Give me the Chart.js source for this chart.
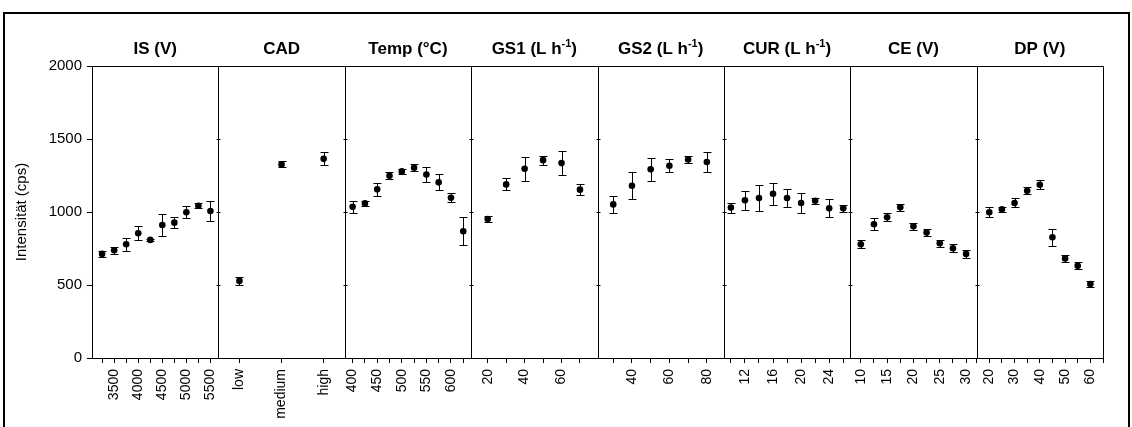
<!DOCTYPE html>
<html>
<head>
<meta charset="utf-8">
<script src="https://cdn.jsdelivr.net/npm/chart.js@4.4.1/dist/chart.umd.min.js"></script>
<style>
  html, body { margin: 0; padding: 0; background: #fff; }
  #wrap { position: relative; width: 1132px; height: 427px; overflow: hidden; }
  #frame { position: absolute; left: 3px; top: 12px; width: 1127px; height: 440px; border: 2.5px solid #000; box-sizing: border-box; }
  canvas { position: absolute; left: 0; top: 0; }
</style>
</head>
<body>
<div id="wrap">
  <div id="frame"></div>
  <canvas id="grafico" width="1132" height="427"></canvas>
</div>
<script>
// IS (V)
const isX = [3250, 3500, 3750, 4000, 4250, 4500, 4750, 5000, 5250, 5500];
const isMean = [713, 738, 779, 854, 809, 911, 927, 998, 1043, 1007];
const isErr = [22, 23, 45, 48, 8, 78, 39, 41, 17, 70];
const isTicks = [3250, 3500, 3750, 4000, 4250, 4500, 4750, 5000, 5250, 5500];
const isLabels = [3500, 4000, 4500, 5000, 5500];

// CAD
const cadX = ['low', 'medium', 'high'];
const cadMean = [528, 1326, 1364];
const cadErr = [25, 20, 45];

// Temp (°C)
const tempX = [400, 425, 450, 475, 500, 525, 550, 575, 600, 625];
const tempMean = [1036, 1059, 1155, 1248, 1278, 1303, 1257, 1203, 1098, 868];
const tempErr = [41, 15, 45, 24, 18, 25, 49, 55, 32, 95];
const tempTicks = [400, 425, 450, 475, 500, 525, 550, 575, 600, 625];
const tempLabels = [400, 450, 500, 550, 600];

// GS1 (L h-1)
const gs1X = [20, 30, 40, 50, 60, 70];
const gs1Mean = [952, 1189, 1296, 1355, 1335, 1153];
const gs1Err = [20, 41, 83, 30, 82, 39];
const gs1Ticks = [20, 30, 40, 50, 60, 70];
const gs1Labels = [20, 40, 60];

// GS2 (L h-1)
const gs2X = [30, 40, 50, 60, 70, 80];
const gs2Mean = [1052, 1180, 1292, 1317, 1360, 1342];
const gs2Err = [58, 91, 79, 46, 25, 71];
const gs2Ticks = [30, 40, 50, 60, 70, 80];
const gs2Labels = [40, 60, 80];

// CUR (L h-1)
const curX = [10, 12, 14, 16, 18, 20, 22, 24, 26];
const curMean = [1030, 1080, 1096, 1125, 1096, 1062, 1077, 1025, 1025];
const curErr = [35, 65, 90, 77, 64, 69, 22, 62, 26];
const curTicks = [10, 12, 14, 16, 18, 20, 22, 24, 26];
const curLabels = [12, 16, 20, 24];

// CE (V)
const ceX = [10, 12.5, 15, 17.5, 20, 22.5, 25, 27.5, 30];
const ceMean = [779, 916, 964, 1032, 902, 859, 786, 752, 713];
const ceErr = [26, 40, 27, 24, 22, 23, 25, 26, 27];
const ceTicks = [10, 12.5, 15, 17.5, 20, 22.5, 25, 27.5, 30];
const ceLabels = [10, 15, 20, 25, 30];

// DP (V)
const dpX = [20, 25, 30, 35, 40, 45, 50, 55, 60];
const dpMean = [998, 1018, 1062, 1146, 1187, 827, 681, 631, 506];
const dpErr = [35, 17, 31, 26, 30, 57, 22, 24, 20];
const dpTicks = [15, 20, 25, 30, 35, 40, 45, 50, 55, 60, 65];
const dpLabels = [20, 30, 40, 50, 60];

const yTicks = [0, 500, 1000, 1500, 2000];

const painéis = [
  { titulo: 'IS (V)', x: isX, media: isMean, erro: isErr, ticks: isTicks, rotulos: isLabels, min: 3040, max: 5665 },
  { titulo: 'CAD', x: cadX, media: cadMean, erro: cadErr, categorias: true },
  { titulo: 'Temp (°C)', x: tempX, media: tempMean, erro: tempErr, ticks: tempTicks, rotulos: tempLabels, min: 384, max: 641 },
  { titulo: 'GS1 (L h^-1^)', x: gs1X, media: gs1Mean, erro: gs1Err, ticks: gs1Ticks, rotulos: gs1Labels, min: 11, max: 79.5 },
  { titulo: 'GS2 (L h^-1^)', x: gs2X, media: gs2Mean, erro: gs2Err, ticks: gs2Ticks, rotulos: gs2Labels, min: 21.6, max: 89.1 },
  { titulo: 'CUR (L h^-1^)', x: curX, media: curMean, erro: curErr, ticks: curTicks, rotulos: curLabels, min: 9, max: 27 },
  { titulo: 'CE (V)', x: ceX, media: ceMean, erro: ceErr, ticks: ceTicks, rotulos: ceLabels, min: 8, max: 32 },
  { titulo: 'DP (V)', x: dpX, media: dpMean, erro: dpErr, ticks: dpTicks, rotulos: dpLabels, min: 15, max: 65 }
];

const fonte = 'Liberation Sans, Arial, Helvetica, sans-serif';
const fonteTick = { family: fonte, size: 14 };
Chart.defaults.color = '#000';
Chart.defaults.font.family = fonte;

// altura fixa do eixo x e sem padding lateral (os eixos ficam lado a lado)
function ajustaEixoX(scale) {
  scale.height = 69;
  scale.paddingLeft = 0;
  scale.paddingRight = 0;
}

const escalas = {};
painéis.forEach((p, i) => {
  const base = {
    position: 'bottom',
    stack: 'paineis',
    afterFit: ajustaEixoX,
    grid: { drawOnChartArea: false, drawTicks: true, tickLength: 5, color: '#000', offset: false },
    border: { color: '#000', width: 1 }
  };
  if (p.categorias) {
    escalas['x' + i] = Object.assign(base, {
      type: 'category',
      labels: p.x,
      offset: true,
      ticks: { autoSkip: false, minRotation: 90, maxRotation: 90, padding: 6, font: fonteTick }
    });
  } else {
    escalas['x' + i] = Object.assign(base, {
      type: 'linear',
      bounds: 'data',
      min: p.min,
      max: p.max,
      afterBuildTicks: (scale) => { scale.ticks = p.ticks.map(v => ({ value: v })); },
      ticks: {
        autoSkip: false, minRotation: 90, maxRotation: 90, padding: 6, font: fonteTick,
        callback: (v) => p.rotulos.includes(v) ? String(v) : ''
      }
    });
  }
});

escalas.y = {
  type: 'linear',
  position: 'left',
  min: 0,
  max: 2000,
  afterBuildTicks: (scale) => { scale.ticks = yTicks.map(v => ({ value: v })); },
  afterFit: (scale) => { scale.width = 92; },
  ticks: { padding: 5, font: { family: fonte, size: 15 }, callback: (v) => String(v) },
  title: { display: true, text: 'Intensität (cps)', font: { family: fonte, size: 15 }, padding: { top: 13, bottom: 0 } },
  grid: { drawOnChartArea: false, drawTicks: true, tickLength: 5, color: '#000' },
  border: { color: '#000', width: 1 }
};

const datasets = painéis.map((p, i) => ({
  label: p.titulo,
  data: p.x.map((x, j) => ({ x: x, y: p.media[j] })),
  erros: p.erro,
  xAxisID: 'x' + i,
  yAxisID: 'y',
  pointRadius: 3.3,
  pointBorderWidth: 0,
  backgroundColor: '#000',
  borderColor: '#000',
  showLine: false
}));

// Barras de erro (média ± desvio)
const barrasErro = {
  id: 'barrasErro',
  beforeDatasetsDraw(chart) {
    const ctx = chart.ctx;
    const y = chart.scales.y;
    ctx.save();
    ctx.strokeStyle = '#000';
    ctx.lineWidth = 1;
    chart.data.datasets.forEach((ds, i) => {
      const meta = chart.getDatasetMeta(i);
      meta.data.forEach((pt, j) => {
        const m = ds.data[j].y;
        const e = ds.erros[j];
        const x = Math.round(pt.x) + 0.5;
        const yTop = Math.round(y.getPixelForValue(m + e)) + 0.5;
        const yBot = Math.round(y.getPixelForValue(m - e)) + 0.5;
        ctx.beginPath();
        ctx.moveTo(x, yTop); ctx.lineTo(x, yBot);
        ctx.moveTo(x - 4, yTop); ctx.lineTo(x + 4, yTop);
        ctx.moveTo(x - 4, yBot); ctx.lineTo(x + 4, yBot);
        ctx.stroke();
      });
    });
    ctx.restore();
  }
};

// Moldura da área do gráfico e divisões entre painéis
const moldura = {
  id: 'moldura',
  afterDraw(chart) {
    const ctx = chart.ctx;
    const a = chart.chartArea;
    const y = chart.scales.y;
    ctx.save();
    ctx.strokeStyle = '#000';
    ctx.lineWidth = 1;
    ctx.beginPath();
    ctx.rect(Math.round(a.left) + 0.5, Math.round(a.top) + 0.5, Math.round(a.right - a.left), Math.round(a.bottom - a.top));
    painéis.forEach((p, i) => {
      if (i === 0) return;
      const s = chart.scales['x' + i];
      const x = Math.round(s.left) + 0.5;
      ctx.moveTo(x, a.top); ctx.lineTo(x, a.bottom);
      y.ticks.forEach(t => {
        const yy = Math.round(y.getPixelForValue(t.value)) + 0.5;
        ctx.moveTo(x - 2, yy); ctx.lineTo(x + 2, yy);
      });
    });
    ctx.stroke();
    ctx.restore();
  }
};

// Títulos dos painéis (com expoente entre ^...^)
const titulos = {
  id: 'titulos',
  afterDraw(chart) {
    const ctx = chart.ctx;
    ctx.save();
    ctx.fillStyle = '#000';
    ctx.textBaseline = 'alphabetic';
    ctx.textAlign = 'left';
    const normal = 'bold 17px ' + fonte;
    const sup = 'bold 11px ' + fonte;
    painéis.forEach((p, i) => {
      const s = chart.scales['x' + i];
      const partes = p.titulo.split('^');
      let total = 0;
      partes.forEach((t, k) => {
        ctx.font = k % 2 ? sup : normal;
        total += ctx.measureText(t).width;
      });
      let x = (s.left + s.right) / 2 - total / 2;
      const base = 54;
      partes.forEach((t, k) => {
        ctx.font = k % 2 ? sup : normal;
        ctx.fillText(t, x, k % 2 ? base - 7 : base);
        x += ctx.measureText(t).width;
      });
    });
    ctx.restore();
  }
};

new Chart(document.getElementById('grafico'), {
  type: 'scatter',
  data: { datasets: datasets },
  options: {
    responsive: false,
    animation: false,
    layout: { padding: { left: 0, top: 66, right: 29, bottom: 0 } },
    plugins: { legend: { display: false }, tooltip: { enabled: false } },
    scales: escalas
  },
  plugins: [barrasErro, moldura, titulos]
});
</script>
</body>
</html>
